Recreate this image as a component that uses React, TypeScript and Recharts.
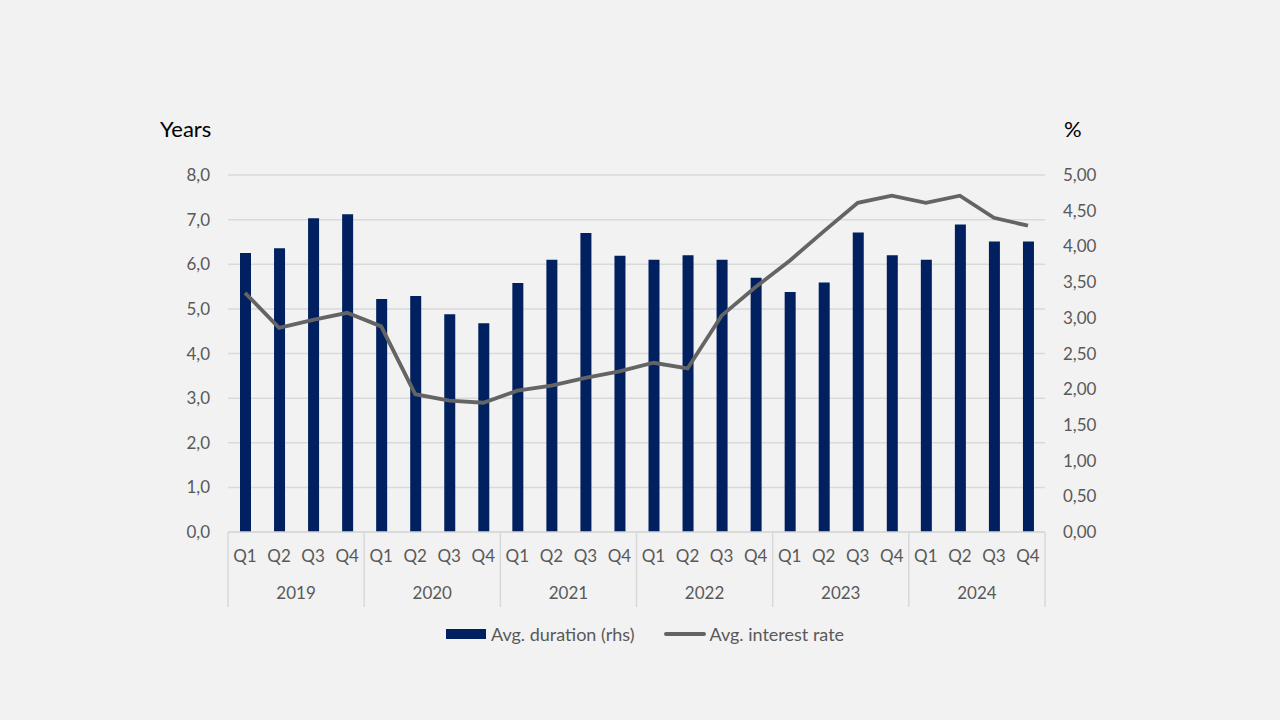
import React from "react";
import {
  ComposedChart,
  Bar,
  Line,
  XAxis,
  YAxis,
  CartesianGrid,
  Legend,
} from "recharts";

const quarters = [
  "Q1", "Q2", "Q3", "Q4", "Q1", "Q2", "Q3", "Q4",
  "Q1", "Q2", "Q3", "Q4", "Q1", "Q2", "Q3", "Q4",
  "Q1", "Q2", "Q3", "Q4", "Q1", "Q2", "Q3", "Q4",
];
const years = [
  "2019", "2019", "2019", "2019", "2020", "2020", "2020", "2020",
  "2021", "2021", "2021", "2021", "2022", "2022", "2022", "2022",
  "2023", "2023", "2023", "2023", "2024", "2024", "2024", "2024",
];
const avgDuration = [
  6.25, 6.36, 7.03, 7.12, 5.22, 5.29, 4.88, 4.68,
  5.58, 6.1, 6.7, 6.19, 6.1, 6.2, 6.1, 5.7,
  5.38, 5.59, 6.71, 6.2, 6.1, 6.89, 6.51, 6.51,
];
const avgRate = [
  3.35, 2.86, 2.97, 3.07, 2.88, 1.93, 1.84, 1.81,
  1.98, 2.05, 2.16, 2.25, 2.37, 2.29, 3.03, 3.43,
  3.8, 4.21, 4.61, 4.71, 4.61, 4.71, 4.4, 4.29,
];
const leftTicks = [0, 1, 2, 3, 4, 5, 6, 7, 8];
const rightTicks = [0, 0.5, 1, 1.5, 2, 2.5, 3, 3.5, 4, 4.5, 5];

const data = quarters.map((q, i) => ({
  q,
  year: years[i],
  duration: avgDuration[i],
  rate: avgRate[i],
}));

const NAVY = "#002060";
const GREY_LINE = "#646464";
const TEXT = "#595959";
const GRID = "#d9d9d9";
const FONT = "Lato, 'Open Sans', sans-serif";

const Q_AXIS_H = 40;
const YEAR_AXIS_H = 40;

const tickStyle = { fill: TEXT, fontSize: 17, fontFamily: FONT };

// year tier: label in the middle of each year, separators between years
const YearTick = (props: any) => {
  const { x, y, index, width } = props;
  const n = data.length;
  const band = (width || 817) / n;
  const left = x - band / 2;
  return (
    <g>
      {index % 4 === 0 && (
        <line x1={left} x2={left} y1={y - Q_AXIS_H} y2={y + 35} stroke={GRID} strokeWidth={1.5} />
      )}
      {index === n - 1 && (
        <line x1={x + band / 2} x2={x + band / 2} y1={y - Q_AXIS_H} y2={y + 35} stroke={GRID} strokeWidth={1.5} />
      )}
      {index % 4 === 1 && (
        <text x={x + band / 2} y={y + 27} textAnchor="middle" {...tickStyle}>
          {data[index].year}
        </text>
      )}
    </g>
  );
};

const LegendContent = () => (
  <div
    style={{
      display: "flex",
      justifyContent: "center",
      alignItems: "center",
      gap: 30,
      fontFamily: FONT,
      fontSize: 18,
      color: TEXT,
      paddingLeft: 10,
    }}
  >
    <span style={{ display: "flex", alignItems: "center" }}>
      <span style={{ width: 40, height: 10, background: NAVY, marginRight: 5 }} />
      Avg. duration (rhs)
    </span>
    <span style={{ display: "flex", alignItems: "center" }}>
      <span style={{ width: 42, height: 4, borderRadius: 2, background: GREY_LINE, marginRight: 3 }} />
      Avg. interest rate
    </span>
  </div>
);

const fmt1 = (v: number) => v.toFixed(1).replace(".", ",");
const fmt2 = (v: number) => v.toFixed(2).replace(".", ",");

export default function App() {
  return (
    <div
      style={{
        position: "fixed",
        left: 0,
        top: 0,
        width: 1280,
        height: 720,
        background: "#f2f2f2",
      }}
    >
      <ComposedChart
        width={1280}
        height={720}
        data={data}
        margin={{ top: 175, right: 175, bottom: 108, left: 168 }}
        barCategoryGap={0}
      >
        <CartesianGrid yAxisId="left" horizontal vertical={false} stroke={GRID} strokeWidth={1.5} />
        <XAxis
          xAxisId="q"
          dataKey="q"
          interval={0}
          height={Q_AXIS_H}
          tickLine={false}
          tickSize={0}
          tickMargin={18}
          axisLine={{ stroke: GRID, strokeWidth: 1.5 }}
          tick={tickStyle}
        />
        <XAxis
          xAxisId="year"
          dataKey="q"
          interval={0}
          height={YEAR_AXIS_H}
          tickLine={false}
          tickSize={0}
          tickMargin={0}
          axisLine={false}
          tick={<YearTick />}
        />
        <YAxis
          yAxisId="left"
          orientation="left"
          width={60}
          domain={[0, 8]}
          ticks={leftTicks}
          tickFormatter={fmt1}
          axisLine={false}
          tickLine={false}
          tickSize={0}
          tickMargin={18}
          tick={tickStyle}
          label={({ viewBox }: any) => (
            <text x={viewBox.x - 8} y={viewBox.y - 38} fill="#000" fontSize={22} fontFamily={FONT}>
              Years
            </text>
          )}
        />
        <YAxis
          yAxisId="right"
          orientation="right"
          width={60}
          domain={[0, 5]}
          ticks={rightTicks}
          tickFormatter={fmt2}
          axisLine={false}
          tickLine={false}
          tickSize={0}
          tickMargin={18}
          tick={tickStyle}
          label={({ viewBox }: any) => (
            <text x={viewBox.x + 19} y={viewBox.y - 38} fill="#000" fontSize={22} fontFamily={FONT}>
              %
            </text>
          )}
        />
        <Bar
          xAxisId="q"
          yAxisId="left"
          dataKey="duration"
          name="Avg. duration (rhs)"
          fill={NAVY}
          barSize={11}
          isAnimationActive={false}
        />
        <Line
          xAxisId="q"
          yAxisId="right"
          dataKey="rate"
          name="Avg. interest rate"
          type="linear"
          stroke={GREY_LINE}
          strokeWidth={3.8}
          dot={false}
          activeDot={false}
          isAnimationActive={false}
        />
        <Legend
          layout="horizontal"
          verticalAlign="middle"
          align="center"
          content={<LegendContent />}
          wrapperStyle={{ top: 623, left: 0, width: 1280 }}
        />
      </ComposedChart>
    </div>
  );
}
